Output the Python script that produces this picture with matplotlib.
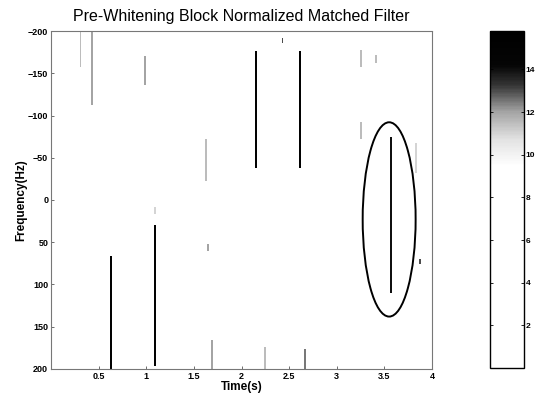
import numpy as np
import matplotlib
matplotlib.use("Agg")
import matplotlib.pyplot as plt
from matplotlib.colors import LinearSegmentedColormap
from matplotlib.patches import Ellipse

# ---- data ----
seg_time = [0.32, 0.43, 0.99, 1.64, 2.15, 2.62, 3.25, 3.25, 3.41, 3.58, 3.83,
            0.63, 1.10, 1.10, 1.70, 2.26, 2.67, 2.44, 1.645, 3.88]
seg_f_start = [-200, -200, -170, -72, -176, -176, -178, -92, -172, -73, -67,
               66, 30, 8, 166, 174, 176, -192, 52, 70]
seg_f_end = [-159, -113, -137, -22, -38, -38, -158, -72, -163, 110, -32,
             200, 195, 15, 200, 200, 200, -187, 60, 76]
seg_level = [11.5, 12.0, 12.0, 11.5, 15.0, 15.0, 11.5, 11.5, 11.5, 14.0, 11.0,
             15.0, 15.0, 11.0, 12.0, 11.5, 12.5, 13.0, 12.0, 13.0]

ellipse_center = (3.55, 23)
ellipse_size = (0.556, 230)

x_ticks = [0.5, 1, 1.5, 2, 2.5, 3, 3.5, 4]
x_ticklabels = ["0.5", "1", "1.5", "2", "2.5", "3", "3.5", "4"]
y_ticks = [-200, -150, -100, -50, 0, 50, 100, 150, 200]
cbar_ticks = [2, 4, 6, 8, 10, 12, 14]
clim = (0, 15.8)

title = "Pre-Whitening Block Normalized Matched Filter"
xlabel = "Time(s)"
ylabel = "Frequency(Hz)"

# ---- build the image grid from the segments ----
dt, dfq = 0.02, 2.0
t_edges = np.arange(0, 4 + dt / 2, dt)
f_edges = np.arange(-200, 200 + dfq / 2, dfq)
t_cent = (t_edges[:-1] + t_edges[1:]) / 2
f_cent = (f_edges[:-1] + f_edges[1:]) / 2
Z = np.zeros((len(f_cent), len(t_cent)))
for t, fs, fe, lv in zip(seg_time, seg_f_start, seg_f_end, seg_level):
    ci = int(np.argmin(np.abs(t_cent - t)))
    rows = (f_cent >= fs) & (f_cent <= fe)
    Z[rows, ci] = np.maximum(Z[rows, ci], lv)

cmap = LinearSegmentedColormap.from_list(
    "scan_gray",
    [(0.0, "#ffffff"), (0.60, "#ffffff"), (0.68, "#e2e2e2"),
     (0.76, "#a5a5a5"), (0.84, "#353535"), (0.90, "#050505"), (1.0, "#000000")])

plt.rcParams['font.family'] = ['Liberation Sans', 'DejaVu Sans']

fig = plt.figure(figsize=(5.37, 3.98), dpi=100)
ax = fig.add_axes([0.095, 0.073, 0.7095, 0.849])
mesh = ax.pcolormesh(t_edges, f_edges, Z, cmap=cmap, vmin=clim[0], vmax=clim[1],
                     shading="flat")
ax.add_patch(Ellipse(ellipse_center, ellipse_size[0], ellipse_size[1],
                     fill=False, edgecolor="black", linewidth=1.4))
ax.set_xlim(0, 4)
ax.set_ylim(200, -200)
ax.set_xticks(x_ticks)
ax.set_xticklabels(x_ticklabels)
ax.set_yticks(y_ticks)
ax.tick_params(direction="in", length=2.5, width=0.6, labelsize=6.5, pad=2,
               color="#555555")
for lab in ax.get_xticklabels() + ax.get_yticklabels():
    lab.set_fontweight("bold")
for sp in ax.spines.values():
    sp.set_color("#777777")
    sp.set_linewidth(0.8)
    sp.set_linestyle((0, (1.5, 1)))
ax.set_title(title, fontsize=11.5, pad=7)
ax.set_xlabel(xlabel, fontsize=8.5, fontweight="bold", labelpad=0)
ax.set_ylabel(ylabel, fontsize=8.5, fontweight="bold")
ax.yaxis.set_label_coords(-0.062, 0.5)

cax = fig.add_axes([0.9125, 0.0754, 0.064, 0.8466])
cb = fig.colorbar(mesh, cax=cax)
cb.set_ticks(cbar_ticks)
cb.outline.set_linewidth(1.0)
cb.outline.set_edgecolor("black")
cax.tick_params(direction="in", length=2.5, width=0.6, labelsize=6, pad=1,
                left=True, right=True)
for lab in cax.get_yticklabels():
    lab.set_fontweight("bold")

fig.savefig("out.png", dpi=100)
